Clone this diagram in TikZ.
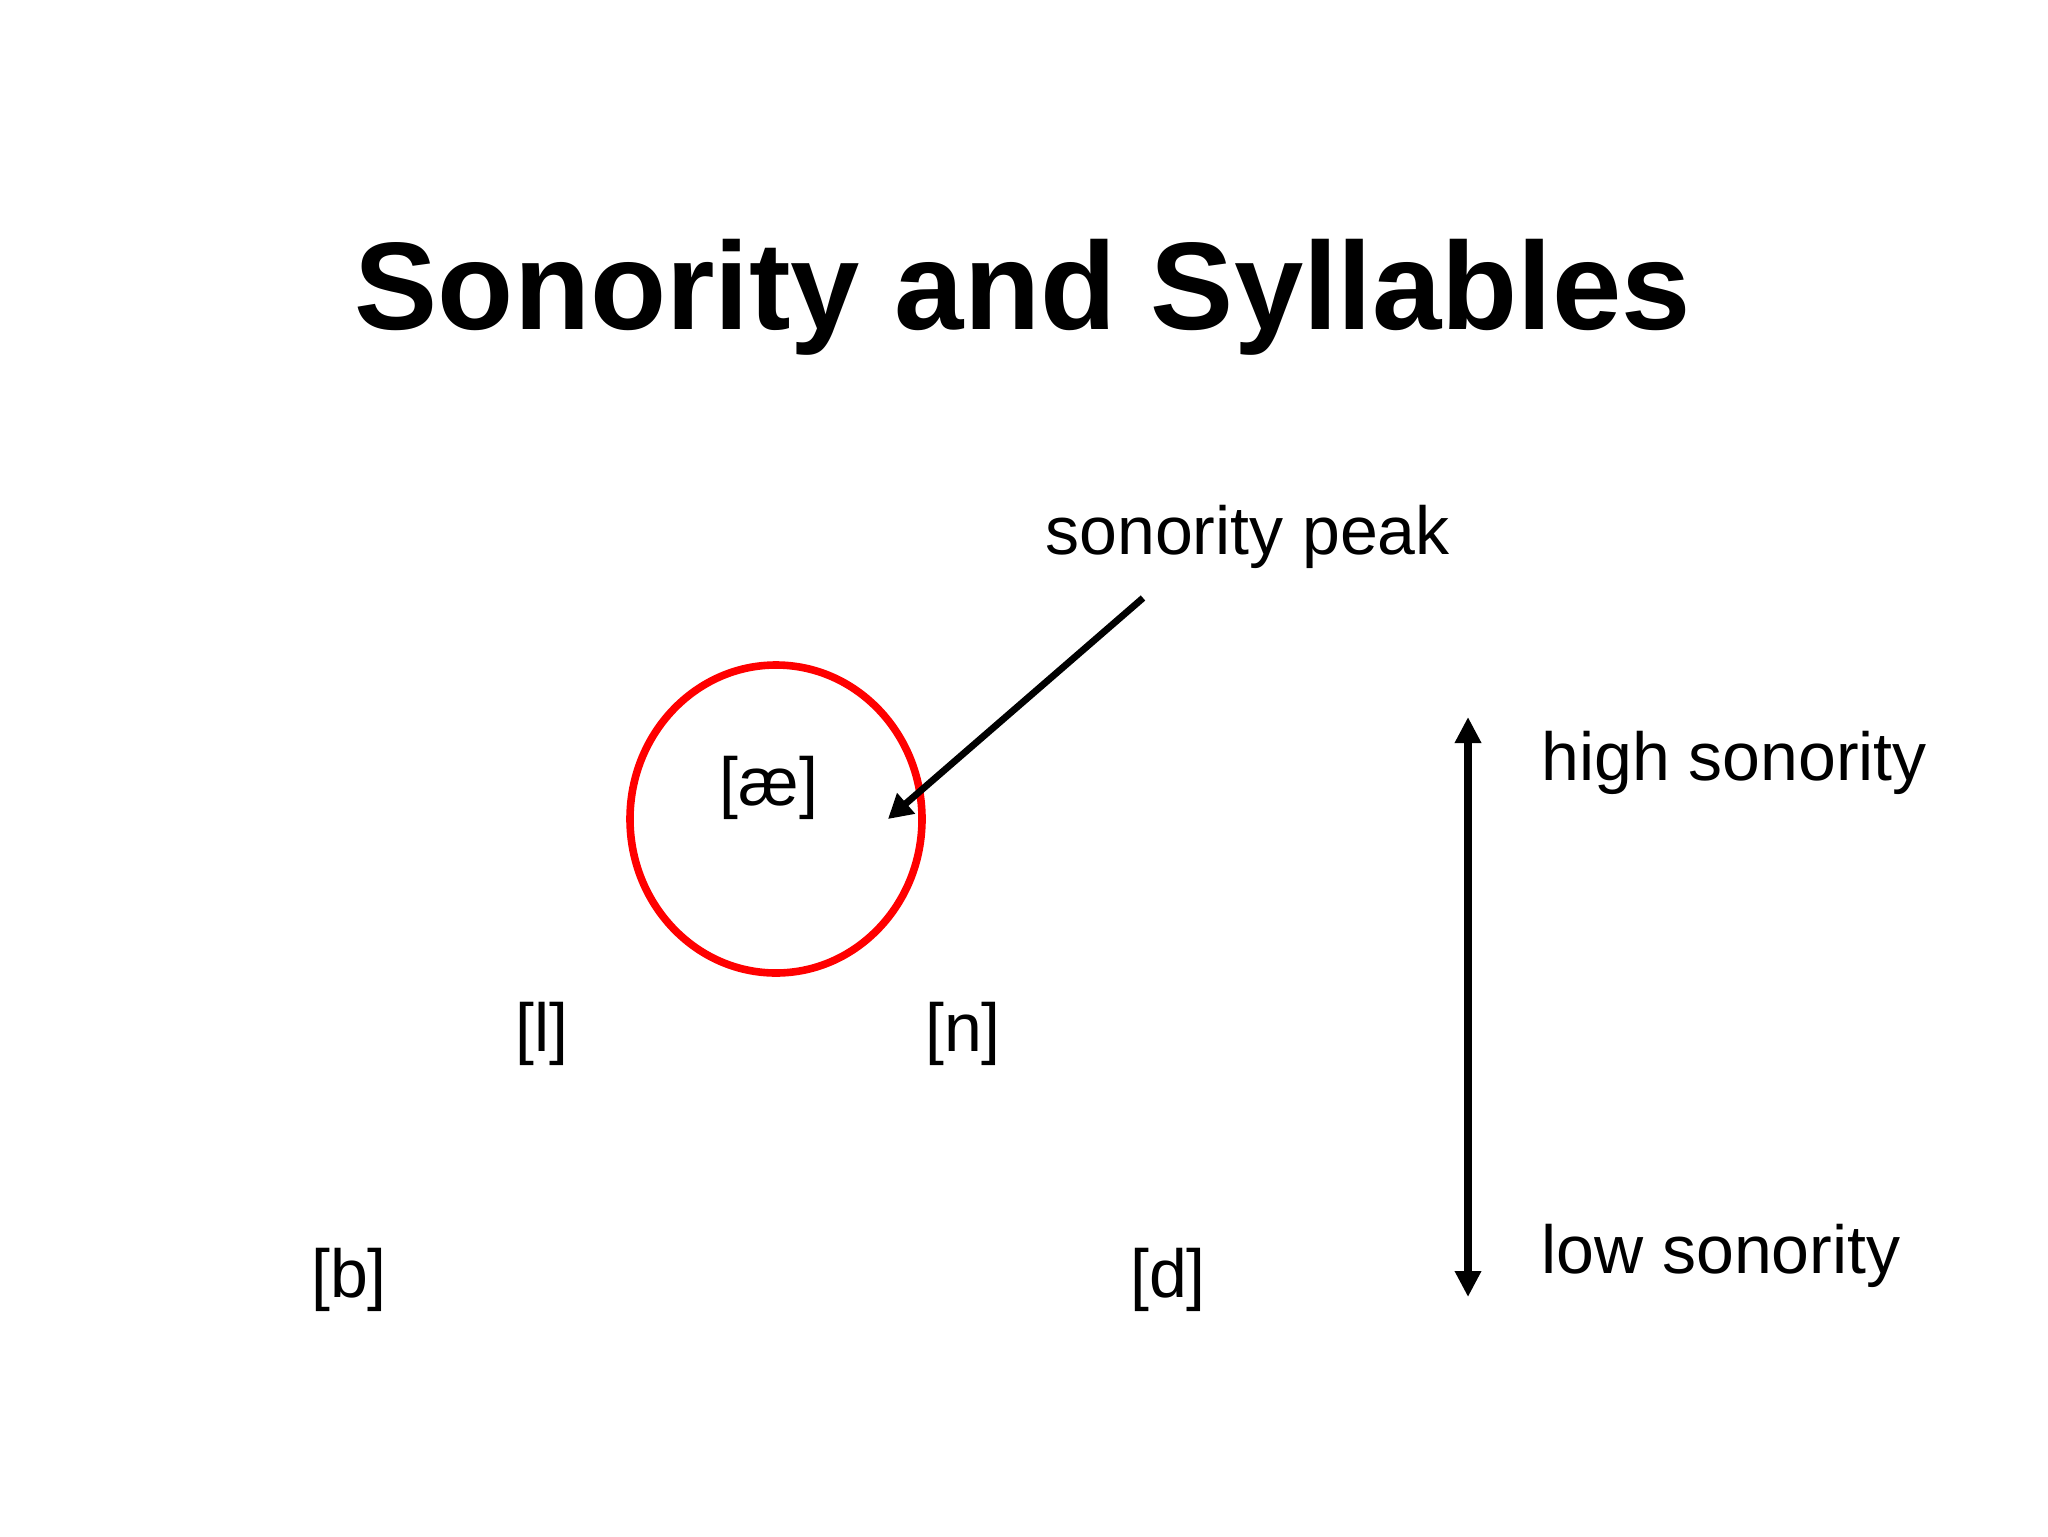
\documentclass[tikz,border=0pt]{standalone}
\usepackage{fontspec}
\setmainfont{Liberation Sans}
\usetikzlibrary{arrows.meta}
\begin{document}
\begin{tikzpicture}[x=0.5pt,y=-0.5pt,
  lbl/.style={inner sep=0pt,font=\fontsize{34}{40}\selectfont},
  sidelbl/.style={lbl,anchor=base west},
  arr/.style={line width=3.4pt,-{Triangle[length=12pt,width=13pt]}},
  darr/.style={line width=3.6pt,{Triangle[length=13pt,width=12.5pt]}-{Triangle[length=13pt,width=12.5pt]}}]
\useasboundingbox[fill=white] (0,0) rectangle (2048,1536);
\node[inner sep=0pt,anchor=base,font=\fontsize{62.3}{70}\bfseries\selectfont] (title) at (1023,329) {Sonority and Syllables};
\draw[red,line width=3.8pt] (776,819) ellipse [x radius=146,y radius=154];
\node[lbl] (ae) at (769,788) {[æ]};
\node[lbl] (l) at (542,1034) {[l]};
\node[lbl] (n) at (963,1034) {[n]};
\node[lbl] (b) at (349,1280) {[b]};
\node[lbl] (d) at (1168,1280) {[d]};
\node[sidelbl] (peak) at (1045,554) {sonority peak};
\node[sidelbl] (high) at (1541,780) {high sonority};
\node[sidelbl] (low) at (1541,1273) {low sonority};
\coordinate (pstart) at (1143,598);
\coordinate (ptip) at (888,819);
\draw[arr] (pstart) -- (ptip);
\coordinate (vtop) at (1468,717);
\coordinate (vbot) at (1468,1297);
\draw[darr] (vtop) -- (vbot);
\end{tikzpicture}
\end{document}
